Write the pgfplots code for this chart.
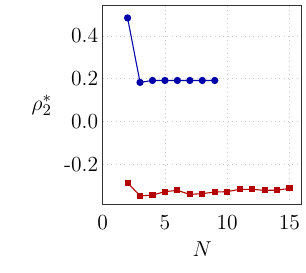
\documentclass[border=0pt]{standalone}
\usepackage{pgfplots}
\pgfplotsset{compat=1.18}
\definecolor{myblue}{RGB}{0,0,170}
\definecolor{myred}{RGB}{180,0,0}
\begin{document}
\begin{tikzpicture}
\begin{axis}[
  name=ax,
  scale only axis,
  width=111pt, height=110.5pt,
  xmin=0, xmax=16, ymin=-0.386, ymax=0.54,
  xtick={0,5,10,15},
  ytick={-0.2,0,0.2,0.4},
  yticklabels={-0.2,0.0,0.2,0.4},
  major tick length=0pt,
  grid=major,
  grid style={dotted, gray!40},
  axis line style={black!80, line width=0.6pt},
  tick label style={font=\fontsize{12}{14}\selectfont},
  label style={font=\fontsize{12.5}{15}\selectfont},
  xlabel={$N$},
  ylabel={$\rho_2^*$},
  ylabel style={rotate=-90},
  xticklabel style={yshift=-3pt},
  yticklabel style={xshift=1pt},
]
\addplot[myblue, line width=0.6pt, mark=*, mark size=1.7pt] coordinates {
 (2,0.484) (3,0.183) (4,0.192) (5,0.192) (6,0.192) (7,0.192) (8,0.192) (9,0.192)
};
\addplot[myred, line width=0.6pt, mark=square*, mark size=1.4pt] coordinates {
 (2,-0.285) (3,-0.347) (4,-0.343) (5,-0.327) (6,-0.321) (7,-0.340) (8,-0.336)
 (9,-0.329) (10,-0.327) (11,-0.316) (12,-0.316) (13,-0.321) (14,-0.320) (15,-0.312)
};
\end{axis}
\path ([shift={(-57.2pt,-37.8pt)}]ax.south west) rectangle ([shift={(1.7pt,3.3pt)}]ax.north east);
\end{tikzpicture}
\end{document}
